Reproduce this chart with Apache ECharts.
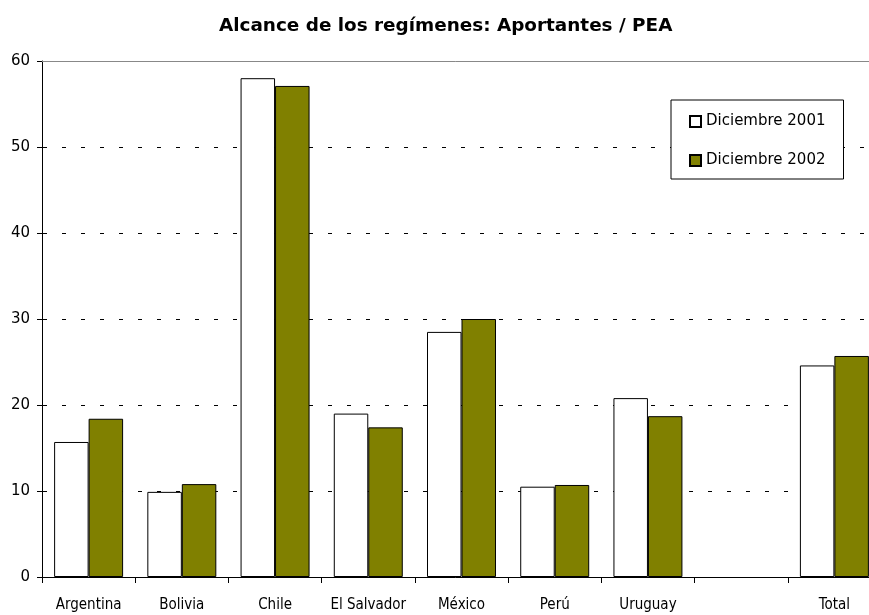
<!DOCTYPE html>
<html>
<head>
<meta charset="utf-8">
<script src="https://cdn.jsdelivr.net/npm/echarts@6/dist/echarts.min.js"></script>
<style>
  html, body { margin: 0; padding: 0; background: #fff; }
  #main { width: 869px; height: 615px; }
</style>
</head>
<body>
<div id="main"></div>
<script>
// datos del gráfico
var categories = ["Argentina", "Bolivia", "Chile", "El Salvador", "México", "Perú", "Uruguay", "", "Total"];
var dic2001 = [15.7, 9.9, 58.0, 19.0, 28.5, 10.5, 20.8, null, 24.6];
var dic2002 = [18.4, 10.8, 57.1, 17.4, 30.0, 10.7, 18.7, null, 25.7];
var seriesNames = ["Diciembre 2001", "Diciembre 2002"];

var myChart = echarts.init(document.getElementById("main"));

var option = {
  animation: false,
  backgroundColor: "#fff",
  title: {
    text: "Alcance de los regímenes: Aportantes / PEA",
    left: 214,
    top: 12,
    textStyle: { fontFamily: "DejaVu Sans", fontWeight: "bold", fontSize: 18.4, color: "#000" }
  },
  legend: {
    orient: "vertical",
    left: 671,
    top: 100,
    width: 173,
    padding: [14, 18, 11, 18],
    itemGap: 24,
    itemWidth: 11,
    itemHeight: 11,
    icon: "rect",
    borderColor: "#000",
    borderWidth: 1,
    backgroundColor: "#fff",
    textStyle: { fontFamily: "DejaVu Sans", fontSize: 15, color: "#000" },
    data: seriesNames
  },
  // el área del gráfico sigue más allá del borde derecho (como en el original)
  grid: { left: 42, top: 61, width: 839, height: 516, outerBoundsMode: "none" },
  xAxis: [
    {
      type: "category",
      data: categories,
      axisLine: { lineStyle: { color: "#000", width: 1 } },
      axisTick: { show: true, length: 6, lineStyle: { color: "#000" } },
      axisLabel: {
        interval: 0,
        margin: 21,
        fontFamily: "DejaVu Sans Condensed",
        fontSize: 15,
        color: "#000"
      },
      splitLine: { show: false }
    },
    {
      type: "category",
      data: categories,
      position: "top",
      axisLine: { show: true, lineStyle: { color: "#888", width: 1 } },
      axisTick: { show: false },
      axisLabel: { show: false }
    }
  ],
  yAxis: {
    type: "value",
    min: 0,
    max: 60,
    interval: 10,
    axisLine: { show: true, lineStyle: { color: "#000", width: 1 } },
    axisTick: { show: true, length: 5, lineStyle: { color: "#000" } },
    axisLabel: { margin: 12, fontFamily: "DejaVu Sans", fontSize: 15, color: "#000" },
    splitLine: {
      show: true,
      lineStyle: { color: "#000", width: 1, type: [4, 15], dashOffset: 18 }
    }
  },
  series: [
    {
      name: seriesNames[0],
      type: "bar",
      xAxisIndex: 0,
      data: dic2001,
      barGap: "0%",
      barCategoryGap: "26%",
      itemStyle: { color: "#fff", borderColor: "#000", borderWidth: 1 }
    },
    {
      name: seriesNames[1],
      type: "bar",
      xAxisIndex: 0,
      data: dic2002,
      barGap: "0%",
      barCategoryGap: "26%",
      itemStyle: { color: "#808000", borderColor: "#000", borderWidth: 1 }
    }
  ]
};

myChart.setOption(option);
</script>
</body>
</html>
